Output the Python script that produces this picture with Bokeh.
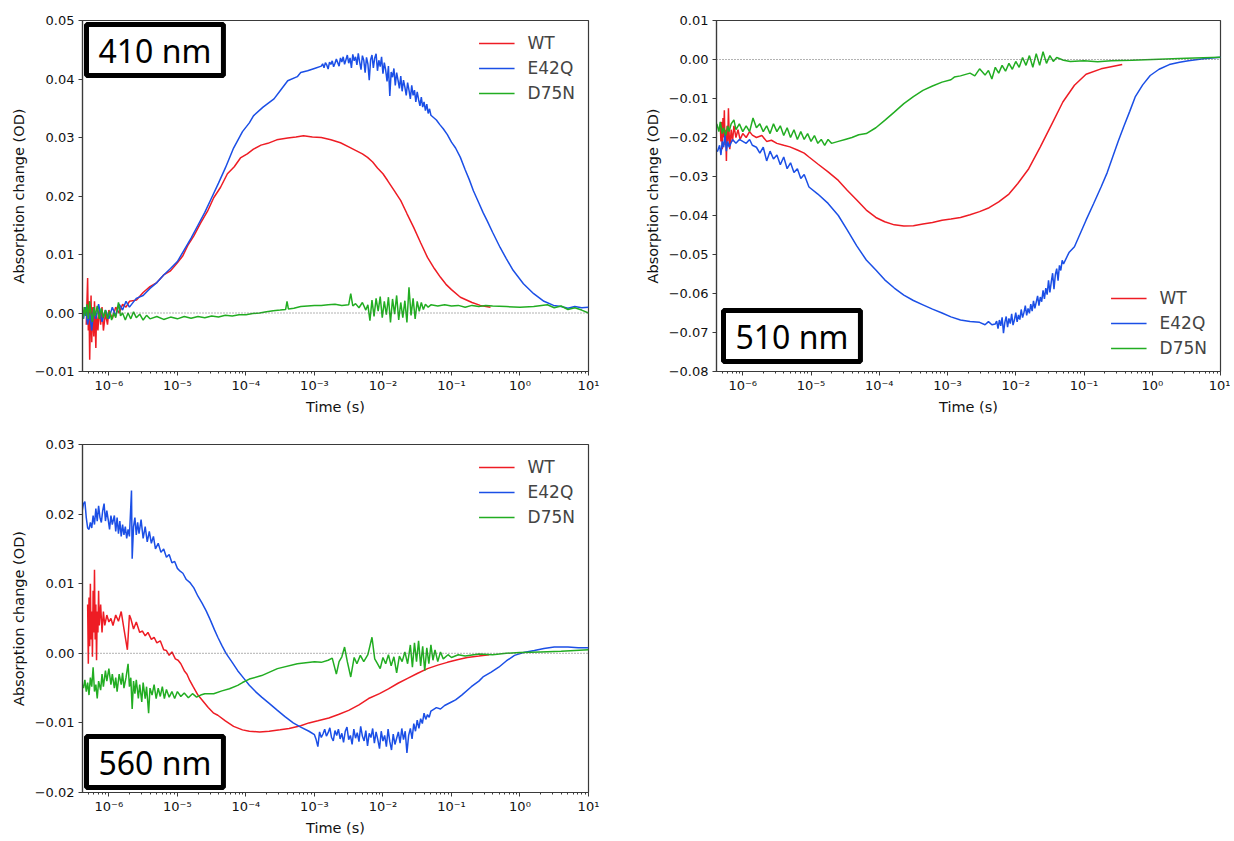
import numpy as np
from bokeh.plotting import figure
from bokeh.layouts import column, row
from bokeh.models import (Span, Label, FixedTicker, CustomJSTickFormatter, Range1d)
from bokeh.embed import file_html
from bokeh.resources import INLINE

# ---------------- DATA (log10 of time in s, absorption change in OD) ----------------
# 410 nm
wt410_lt = [-6.33, -6.31, -6.30, -6.29, -6.28, -6.27, -6.26, -6.25, -6.24, -6.22, -6.21, -6.19, -6.18,
            -6.16, -6.14, -6.12, -6.10, -6.08, -6.05, -6.02, -6.0, -5.95, -5.9, -5.85, -5.8, -5.75,
            -5.7, -5.6, -5.5, -5.4, -5.3, -5.2, -5.1, -5.0, -4.92, -4.85, -4.76, -4.66, -4.56, -4.47,
            -4.37, -4.27, -4.17, -4.08, -3.98, -3.89, -3.78, -3.68, -3.55, -3.39, -3.27, -3.16, -3.03,
            -2.9, -2.76, -2.62, -2.5, -2.4, -2.3, -2.225, -2.15, -2.08, -2.0, -1.93, -1.84, -1.74, -1.65,
            -1.55, -1.45, -1.35, -1.25, -1.16, -1.08, -1.0, -0.87, -0.7, -0.58, -0.43]
wt410_v = [-0.002, 0.006, -0.003, 0.002, -0.008, -0.001, 0.003, -0.005, 0.001, -0.004, 0.002, -0.006, 0.0,
           -0.003, 0.001, -0.002, 0.001, -0.003, 0.0, -0.002, 0.0005, -0.001, 0.001, 0.0, 0.0015, 0.001,
           0.002, 0.0022, 0.0035, 0.0045, 0.0052, 0.0065, 0.0072, 0.0086, 0.0098, 0.0115, 0.0132, 0.0154,
           0.0174, 0.0197, 0.0215, 0.0238, 0.0250, 0.0265, 0.0272, 0.0280, 0.0287, 0.0290, 0.0296, 0.0299,
           0.0301, 0.0303, 0.0301, 0.0300, 0.0296, 0.0291, 0.0284, 0.0278, 0.0272, 0.0266, 0.0258, 0.0248,
           0.0238, 0.0226, 0.0210, 0.0192, 0.0170, 0.0146, 0.0120, 0.0095, 0.0076, 0.0061, 0.0049, 0.0040,
           0.0027, 0.0018, 0.0013, 0.0010]

# E42Q at 410 nm as (log10 t, OD) pairs
e42q410 = [
    (-6.37, -0.001), (-6.34, 0.001), (-6.31, -0.002), (-6.28, 0.0), (-6.25, -0.003), (-6.22, 0.001),
    (-6.19, -0.001), (-6.15, 0.0015), (-6.1, -0.0015), (-6.05, 0.0005), (-6.0, -0.001), (-5.95, 0.001),
    (-5.9, -0.0005), (-5.85, 0.0015), (-5.8, 0.0005), (-5.75, 0.002), (-5.7, 0.001), (-5.6, 0.0025),
    (-5.5, 0.003), (-5.4, 0.0042), (-5.3, 0.0052), (-5.2, 0.0065), (-5.1, 0.0076), (-5.0, 0.0088),
    (-4.9, 0.0108), (-4.8, 0.0128), (-4.7, 0.015), (-4.6, 0.0172), (-4.5, 0.0197), (-4.4, 0.0222),
    (-4.3, 0.0248), (-4.18, 0.0282), (-4.05, 0.031), (-3.95, 0.0325), (-3.89, 0.0337), (-3.75, 0.0352),
    (-3.59, 0.0366), (-3.5, 0.038), (-3.39, 0.0397), (-3.25, 0.0404), (-3.2, 0.0411), (-3.1, 0.0414),
    (-3.0, 0.0418),
    (-2.90, 0.0422), (-2.88, 0.0426), (-2.86, 0.0419), (-2.84, 0.0428), (-2.82, 0.0424), (-2.80, 0.0417),
    (-2.78, 0.0429), (-2.76, 0.0425), (-2.74, 0.0431), (-2.72, 0.0421), (-2.70, 0.0427), (-2.68, 0.0434),
    (-2.66, 0.0428), (-2.64, 0.0422), (-2.62, 0.0436), (-2.60, 0.0429), (-2.58, 0.0438), (-2.56, 0.0425),
    (-2.54, 0.0433), (-2.52, 0.0441), (-2.50, 0.0427), (-2.48, 0.0436), (-2.46, 0.0419), (-2.44, 0.0442),
    (-2.42, 0.0431), (-2.40, 0.0438), (-2.38, 0.0424), (-2.36, 0.0444), (-2.34, 0.0429), (-2.32, 0.0416),
    (-2.30, 0.0440), (-2.28, 0.0432), (-2.26, 0.0411), (-2.24, 0.0437), (-2.22, 0.0426), (-2.20, 0.0398),
    (-2.18, 0.0433), (-2.16, 0.0441), (-2.14, 0.0419), (-2.12, 0.0436), (-2.10, 0.0443), (-2.08, 0.0414),
    (-2.06, 0.0432), (-2.04, 0.0421), (-2.02, 0.0438), (-2.00, 0.0409), (-1.98, 0.0428), (-1.96, 0.0415),
    (-1.94, 0.0396), (-1.92, 0.0422), (-1.90, 0.0371), (-1.88, 0.0412), (-1.86, 0.0403), (-1.84, 0.0418),
    (-1.82, 0.0389), (-1.80, 0.0411), (-1.78, 0.0398), (-1.76, 0.0384), (-1.74, 0.0405), (-1.72, 0.0379),
    (-1.70, 0.0398), (-1.68, 0.0386), (-1.66, 0.0372), (-1.64, 0.0394), (-1.62, 0.0381), (-1.60, 0.0366),
    (-1.58, 0.0389), (-1.56, 0.0372), (-1.54, 0.0381), (-1.52, 0.0361), (-1.50, 0.0378), (-1.48, 0.0365),
    (-1.46, 0.0354), (-1.44, 0.0369), (-1.42, 0.0352), (-1.40, 0.0361), (-1.38, 0.0346), (-1.36, 0.0357),
    (-1.34, 0.0341), (-1.32, 0.0349), (-1.30, 0.0338),
    (-1.22, 0.033), (-1.17, 0.0322), (-1.12, 0.0315), (-1.06, 0.0305), (-1.0, 0.0292), (-0.94, 0.0282),
    (-0.87, 0.0266), (-0.8, 0.0245), (-0.74, 0.0228), (-0.68, 0.0209), (-0.6, 0.0188), (-0.54, 0.0172),
    (-0.48, 0.0158), (-0.4, 0.0138), (-0.29, 0.0112), (-0.2, 0.0093), (-0.1, 0.0073), (0.05, 0.005),
    (0.2, 0.0033), (0.35, 0.002), (0.49, 0.0013), (0.6, 0.0011), (0.7, 0.0008), (0.8, 0.0011),
    (0.9, 0.0009), (1.0, 0.001)]

d75n410_lt = [-6.38, -6.36, -6.34, -6.32, -6.3, -6.28, -6.26, -6.24, -6.22, -6.2, -6.17, -6.14, -6.11,
              -6.08, -6.05, -6.02, -5.99, -5.96, -5.93, -5.9, -5.86, -5.83, -5.8, -5.76, -5.72, -5.68,
              -5.64, -5.6, -5.55, -5.5, -5.45, -5.4, -5.3, -5.2, -5.1, -5.0, -4.9, -4.8, -4.7, -4.6, -4.5,
              -4.4, -4.3, -4.2, -4.1, -4.0, -3.9, -3.8, -3.7, -3.6, -3.5, -3.42, -3.4, -3.38, -3.3, -3.2,
              -3.1, -3.0, -2.9, -2.8, -2.7, -2.6, -2.5, -2.47, -2.44, -2.4, -2.35, -2.3, -2.25, -2.22,
              -2.19, -2.16, -2.13, -2.1, -2.07, -2.04, -2.01, -1.98, -1.95, -1.92, -1.89, -1.86, -1.83,
              -1.8, -1.77, -1.74, -1.71, -1.68, -1.65, -1.62, -1.59, -1.56, -1.53, -1.5, -1.47, -1.44,
              -1.41, -1.38, -1.34, -1.3, -1.2, -1.1, -1.0, -0.9, -0.8, -0.7, -0.6, -0.5, -0.4, -0.2, 0.0,
              0.2, 0.4, 0.5, 0.6, 0.7, 0.8, 0.9, 1.0]
d75n410_v = [-0.001, 0.001, -0.0005, 0.0015, -0.001, 0.002, 0.0, -0.0015, 0.001, -0.0005, 0.0012, -0.001,
             0.0008, -0.0008, 0.0005, -0.001, 0.0003, -0.0012, 0.0, -0.0008, 0.0018, -0.0005, 0.0, -0.0012,
             0.0, -0.001, 0.0002, -0.0008, -0.0002, -0.0012, -0.0004, -0.001, -0.0006, -0.0011, -0.0007,
             -0.001, -0.0006, -0.0009, -0.0006, -0.0008, -0.0005, -0.0007, -0.0004, -0.0005, -0.0003,
             -0.0003, -0.0001, 0.0, 0.0002, 0.0004, 0.0005, 0.0006, 0.002, 0.0007, 0.0008, 0.0011, 0.0012,
             0.0013, 0.0013, 0.0014, 0.0015, 0.0013, 0.0014, 0.0033, 0.0012, 0.0016, 0.0009, 0.0018,
             0.0005, 0.0014, -0.0013, 0.0022, -0.0006, 0.0025, 0.0003, 0.0028, -0.0008, 0.002, -0.0003,
             0.0027, -0.0016, 0.0024, -0.0002, 0.003, -0.0012, 0.0018, -0.0008, 0.0021, -0.0016, 0.0044,
             -0.0004, 0.0025, -0.001, 0.002, 0.0003, 0.0018, 0.0006, 0.0015, 0.001, 0.0014, 0.0012,
             0.0014, 0.0012, 0.0013, 0.001, 0.0013, 0.0011, 0.0013, 0.0012, 0.0011, 0.001, 0.0011, 0.0014,
             0.0009, 0.0012, 0.0006, 0.0009, 0.0005, 0.0]

# 510 nm
wt510_lt = [-6.33, -6.32, -6.31, -6.30, -6.29, -6.28, -6.27, -6.26, -6.25, -6.24, -6.23, -6.22, -6.21,
            -6.20, -6.19, -6.17, -6.15, -6.13, -6.1, -6.07, -6.04, -6.0, -5.95, -5.9, -5.86, -5.8, -5.72,
            -5.65, -5.58, -5.5, -5.4, -5.31, -5.2, -5.1, -5.03, -4.9, -4.75, -4.6, -4.47, -4.33, -4.19,
            -4.05, -3.92, -3.78, -3.64, -3.5, -3.36, -3.22, -3.08, -2.95, -2.81, -2.67, -2.53, -2.39,
            -2.25, -2.1, -1.97, -1.81, -1.64, -1.47, -1.31, -1.14, -0.97, -0.75, -0.44]
wt510_v = [-0.017, -0.021, -0.016, -0.023, -0.015, -0.020, -0.013, -0.022, -0.018, -0.026, -0.017, -0.021,
           -0.0125, -0.019, -0.023, -0.018, -0.021, -0.017, -0.020, -0.018, -0.0205, -0.019, -0.020,
           -0.0185, -0.0194, -0.020, -0.0195, -0.021, -0.0207, -0.0215, -0.022, -0.0224, -0.0232, -0.024,
           -0.025, -0.0268, -0.0288, -0.031, -0.0335, -0.036, -0.0386, -0.0405, -0.0416, -0.0424, -0.0427,
           -0.0426, -0.0422, -0.0418, -0.0412, -0.0409, -0.0405, -0.0398, -0.039, -0.038, -0.0365,
           -0.0345, -0.0318, -0.028, -0.0224, -0.0165, -0.0109, -0.0066, -0.0038, -0.0024, -0.0013]

e42q510 = [
    (-6.4, -0.0237), (-6.37, -0.0235), (-6.34, -0.022), (-6.32, -0.0245), (-6.3, -0.021), (-6.28, -0.0225),
    (-6.26, -0.019), (-6.24, -0.0235), (-6.22, -0.021), (-6.2, -0.0225), (-6.15, -0.0205), (-6.1, -0.0215),
    (-6.05, -0.0205), (-6.0, -0.021), (-5.95, -0.0215), (-5.9, -0.0205), (-5.86, -0.022), (-5.8, -0.0225),
    (-5.75, -0.024), (-5.7, -0.0225), (-5.65, -0.026), (-5.6, -0.0235), (-5.55, -0.0255), (-5.5, -0.0245),
    (-5.45, -0.027), (-5.4, -0.025), (-5.35, -0.028), (-5.3, -0.0265), (-5.25, -0.029), (-5.2, -0.028),
    (-5.15, -0.0305), (-5.1, -0.0295), (-5.03, -0.0327), (-4.9, -0.0345), (-4.75, -0.0369), (-4.6, -0.040),
    (-4.47, -0.0437), (-4.33, -0.0478), (-4.19, -0.0514), (-4.05, -0.054), (-3.92, -0.0565),
    (-3.78, -0.0586), (-3.64, -0.0604), (-3.5, -0.0618), (-3.36, -0.0629), (-3.22, -0.064),
    (-3.08, -0.065), (-2.95, -0.066), (-2.81, -0.0668), (-2.67, -0.0672), (-2.53, -0.0674),
    (-2.45, -0.068), (-2.4, -0.0672), (-2.35, -0.068),
    (-2.30, -0.0678), (-2.28, -0.0671), (-2.26, -0.0690), (-2.24, -0.0668), (-2.22, -0.0683),
    (-2.20, -0.0661), (-2.18, -0.0702), (-2.16, -0.0674), (-2.14, -0.0659), (-2.12, -0.0686),
    (-2.10, -0.0664), (-2.08, -0.0677), (-2.06, -0.0652), (-2.04, -0.0681), (-2.02, -0.0668),
    (-2.00, -0.0649), (-1.98, -0.0673), (-1.96, -0.0655), (-1.94, -0.0667), (-1.92, -0.0641),
    (-1.90, -0.0662), (-1.88, -0.0649), (-1.86, -0.0631), (-1.84, -0.0656), (-1.82, -0.0638),
    (-1.80, -0.0651), (-1.78, -0.0627), (-1.76, -0.0645), (-1.74, -0.0619), (-1.72, -0.0638),
    (-1.70, -0.0622), (-1.68, -0.0606), (-1.66, -0.0631), (-1.64, -0.0609), (-1.62, -0.0621),
    (-1.60, -0.0592), (-1.58, -0.0614), (-1.56, -0.0586), (-1.54, -0.0603), (-1.52, -0.0566),
    (-1.50, -0.0597), (-1.48, -0.0571), (-1.46, -0.0548), (-1.44, -0.0589), (-1.42, -0.0552),
    (-1.40, -0.0536), (-1.38, -0.0567), (-1.36, -0.0528), (-1.34, -0.0541), (-1.32, -0.0515),
    (-1.30, -0.0524),
    (-1.22, -0.0495), (-1.14, -0.048), (-0.97, -0.0412), (-0.86, -0.037), (-0.75, -0.0327),
    (-0.66, -0.029), (-0.58, -0.025), (-0.5, -0.021), (-0.42, -0.0173), (-0.33, -0.0133),
    (-0.25, -0.0096), (-0.14, -0.0065), (-0.03, -0.0041), (0.1, -0.0025), (0.25, -0.0013),
    (0.4, -0.0007), (0.53, -0.0003), (0.75, 0.0002), (1.0, 0.0006)]

d75n510_lt = [-6.4, -6.38, -6.35, -6.33, -6.3, -6.28, -6.25, -6.22, -6.2, -6.17, -6.13, -6.1, -6.05, -6.0,
              -5.95, -5.9, -5.85, -5.8, -5.75, -5.7, -5.65, -5.6, -5.55, -5.5, -5.45, -5.4, -5.35, -5.3,
              -5.25, -5.2, -5.15, -5.1, -5.05, -5.0, -4.95, -4.9, -4.85, -4.8, -4.75, -4.7, -4.6, -4.5,
              -4.4, -4.3, -4.19, -4.05, -3.92, -3.78, -3.64, -3.5, -3.36, -3.22, -3.08, -2.95, -2.9,
              -2.81, -2.67, -2.6, -2.53, -2.45, -2.4, -2.35, -2.3, -2.25, -2.2, -2.15, -2.1, -2.05, -2.0,
              -1.95, -1.9, -1.85, -1.8, -1.75, -1.7, -1.65, -1.6, -1.55, -1.5, -1.45, -1.4, -1.3, -1.2,
              -1.0, -0.8, -0.6, -0.3, 0.0, 0.5, 1.0]
d75n510_v = [-0.0175, -0.0165, -0.0185, -0.016, -0.019, -0.0175, -0.0195, -0.017, -0.0185, -0.0165,
             -0.0155, -0.018, -0.0165, -0.0185, -0.017, -0.0185, -0.015, -0.0175, -0.0165, -0.0185, -0.017,
             -0.019, -0.0165, -0.0185, -0.017, -0.0195, -0.0175, -0.02, -0.018, -0.0205, -0.0185, -0.0205,
             -0.019, -0.021, -0.0195, -0.0215, -0.0205, -0.022, -0.0205, -0.0215, -0.021, -0.0205, -0.020,
             -0.0193, -0.019, -0.0175, -0.0156, -0.0135, -0.0113, -0.0095, -0.0079, -0.0068, -0.0058,
             -0.0052, -0.0045, -0.0042, -0.0035, -0.0042, -0.0024, -0.004, -0.0028, -0.005, -0.002,
             -0.0035, -0.0015, -0.003, -0.001, -0.0025, -0.0005, -0.002, 0.0005, -0.0015, 0.001, -0.002,
             0.0015, -0.0015, 0.002, -0.001, 0.001, -0.0005, 0.0005, -0.0002, -0.0005, -0.0003, -0.0006,
             -0.0003, -0.0002, 0.0, 0.0003, 0.0006]

# 560 nm
wt560_lt = [-6.31, -6.30, -6.29, -6.28, -6.27, -6.26, -6.25, -6.24, -6.23, -6.22, -6.21, -6.20, -6.19,
            -6.18, -6.17, -6.16, -6.15, -6.14, -6.12, -6.1, -6.08, -6.06, -6.03, -6.0, -5.97, -5.94, -5.9,
            -5.86, -5.82, -5.78, -5.73, -5.7, -5.68, -5.64, -5.6, -5.55, -5.51, -5.47, -5.43, -5.38,
            -5.34, -5.3, -5.25, -5.2, -5.16, -5.12, -5.08, -5.03, -4.99, -4.95, -4.9, -4.86, -4.82, -4.77,
            -4.7, -4.64, -4.55, -4.47, -4.41, -4.3, -4.18, -4.05, -3.95, -3.8, -3.66, -3.5, -3.37, -3.2,
            -3.08, -2.95, -2.79, -2.65, -2.5, -2.35, -2.21, -2.05, -1.92, -1.78, -1.64, -1.5, -1.35, -1.2,
            -1.06, -0.9, -0.77, -0.6, -0.45]
wt560_v = [0.007, -0.0015, 0.008, 0.001, 0.010, 0.002, 0.006, -0.0005, 0.009, 0.003, 0.012, 0.002, 0.007,
           -0.001, 0.006, 0.003, 0.009, 0.004, 0.007, 0.003, 0.006, 0.004, 0.0055, 0.0045, 0.005, 0.004,
           0.0055, 0.0046, 0.006, 0.0035, 0.0005, 0.0055, 0.005, 0.0035, 0.0045, 0.003, 0.0032, 0.0025,
           0.003, 0.002, 0.0023, 0.0015, 0.0018, 0.0005, 0.0004, -0.0003, 0.0002, -0.0008, -0.001,
           -0.0015, -0.0025, -0.003, -0.0039, -0.0048, -0.006, -0.0067, -0.0078, -0.0086, -0.0089,
           -0.0097, -0.0105, -0.011, -0.0112, -0.0113, -0.0112, -0.011, -0.0108, -0.0104, -0.01, -0.0097,
           -0.0093, -0.0088, -0.0082, -0.0074, -0.0065, -0.0058, -0.0051, -0.0043, -0.0036, -0.0029,
           -0.0022, -0.0017, -0.0013, -0.0009, -0.0006, -0.0004, -0.0002]

e42q560 = [
    (-6.39, 0.0205), (-6.37, 0.0215), (-6.35, 0.0218), (-6.33, 0.0195), (-6.31, 0.018), (-6.29, 0.0178),
    (-6.27, 0.0188), (-6.25, 0.018), (-6.23, 0.0198), (-6.21, 0.0185), (-6.19, 0.0208), (-6.17, 0.019),
    (-6.15, 0.0212), (-6.13, 0.0195), (-6.11, 0.0188), (-6.09, 0.0205), (-6.07, 0.0215), (-6.05, 0.019),
    (-6.03, 0.0205), (-6.01, 0.0192), (-5.99, 0.0178), (-5.97, 0.0198), (-5.95, 0.0185), (-5.92, 0.0198),
    (-5.9, 0.0175), (-5.88, 0.0195), (-5.86, 0.0172), (-5.84, 0.019), (-5.82, 0.0168), (-5.8, 0.0185),
    (-5.78, 0.017), (-5.76, 0.0182), (-5.74, 0.0165), (-5.72, 0.0178), (-5.7, 0.0168), (-5.67, 0.0234),
    (-5.66, 0.0136), (-5.64, 0.0182), (-5.62, 0.0195), (-5.6, 0.017), (-5.58, 0.0188), (-5.56, 0.0172),
    (-5.53, 0.0192), (-5.5, 0.0165), (-5.47, 0.0182), (-5.44, 0.016), (-5.41, 0.0175), (-5.38, 0.0158),
    (-5.35, 0.0168), (-5.32, 0.015), (-5.28, 0.0158), (-5.24, 0.0145), (-5.2, 0.015), (-5.16, 0.0138),
    (-5.12, 0.0142), (-5.08, 0.013), (-5.04, 0.0132), (-5.0, 0.0122), (-4.96, 0.0118), (-4.92, 0.0115),
    (-4.87, 0.0106), (-4.82, 0.0102), (-4.76, 0.0094), (-4.7, 0.0082), (-4.64, 0.0072), (-4.58, 0.0061),
    (-4.52, 0.0048), (-4.46, 0.0034), (-4.41, 0.0023), (-4.35, 0.0011), (-4.29, 0.0), (-4.2, -0.0013),
    (-4.12, -0.0025), (-4.03, -0.0036), (-3.95, -0.0046), (-3.86, -0.0055), (-3.77, -0.0063),
    (-3.66, -0.0072), (-3.54, -0.0082), (-3.43, -0.0091), (-3.31, -0.01), (-3.2, -0.0106),
    (-3.08, -0.0112),
    (-3.000, -0.0117), (-2.975, -0.0124), (-2.950, -0.0134), (-2.925, -0.0113), (-2.900, -0.0121),
    (-2.875, -0.0116), (-2.850, -0.0109), (-2.825, -0.0119), (-2.800, -0.0114), (-2.775, -0.0107),
    (-2.750, -0.0121), (-2.725, -0.0126), (-2.700, -0.0111), (-2.675, -0.0118), (-2.650, -0.0109),
    (-2.625, -0.0123), (-2.600, -0.0115), (-2.575, -0.0128), (-2.550, -0.0112), (-2.525, -0.0106),
    (-2.500, -0.0124), (-2.475, -0.0118), (-2.450, -0.0131), (-2.425, -0.0109), (-2.400, -0.0122),
    (-2.375, -0.0114), (-2.350, -0.0127), (-2.325, -0.0105), (-2.300, -0.0119), (-2.275, -0.0126),
    (-2.250, -0.0111), (-2.225, -0.0133), (-2.200, -0.0115), (-2.175, -0.0121), (-2.150, -0.0108),
    (-2.125, -0.0129), (-2.100, -0.0113), (-2.075, -0.0124), (-2.050, -0.0137), (-2.025, -0.0112),
    (-2.000, -0.0126), (-1.975, -0.0118), (-1.950, -0.0134), (-1.925, -0.0109), (-1.900, -0.0127),
    (-1.875, -0.0139), (-1.850, -0.0116), (-1.825, -0.0131), (-1.800, -0.0122), (-1.775, -0.0113),
    (-1.750, -0.0129), (-1.725, -0.0108), (-1.700, -0.0124), (-1.675, -0.0112), (-1.650, -0.0143),
    (-1.625, -0.0118), (-1.600, -0.0108), (-1.575, -0.0123), (-1.550, -0.0101), (-1.525, -0.0112),
    (-1.500, -0.0096), (-1.475, -0.0108), (-1.450, -0.0094), (-1.425, -0.0101), (-1.400, -0.0086),
    (-1.375, -0.0095), (-1.350, -0.0088), (-1.325, -0.0092), (-1.300, -0.0083),
    (-1.22, -0.0078), (-1.16, -0.008), (-1.1, -0.0075), (-1.0, -0.007), (-0.94, -0.0067),
    (-0.85, -0.006), (-0.71, -0.0048), (-0.6, -0.004), (-0.54, -0.0034), (-0.42, -0.0027),
    (-0.31, -0.002), (-0.2, -0.0011), (-0.08, -0.0003), (0.05, 0.0001), (0.21, 0.0004), (0.35, 0.0007),
    (0.5, 0.0009), (0.7, 0.0009), (0.85, 0.0008), (1.0, 0.0008)]

d75n560_lt = [-6.39, -6.37, -6.35, -6.33, -6.31, -6.29, -6.27, -6.25, -6.23, -6.21, -6.19, -6.17, -6.15,
              -6.12, -6.1, -6.08, -6.05, -6.03, -6.0, -5.97, -5.95, -5.92, -5.9, -5.88, -5.85, -5.82, -5.8,
              -5.78, -5.75, -5.72, -5.7, -5.68, -5.66, -5.64, -5.62, -5.6, -5.57, -5.55, -5.52, -5.5,
              -5.47, -5.45, -5.42, -5.4, -5.37, -5.34, -5.31, -5.28, -5.25, -5.22, -5.19, -5.16, -5.12,
              -5.08, -5.04, -5.0, -4.95, -4.9, -4.84, -4.78, -4.72, -4.66, -4.6, -4.47, -4.35, -4.24,
              -4.12, -4.05, -3.95, -3.77, -3.54, -3.25, -3.0, -2.9, -2.8, -2.74, -2.68, -2.64, -2.6, -2.56,
              -2.52, -2.47, -2.42, -2.38, -2.33, -2.28, -2.22, -2.16, -2.12, -2.08, -2.04, -2.0, -1.96,
              -1.92, -1.88, -1.84, -1.8, -1.76, -1.72, -1.68, -1.64, -1.6, -1.57, -1.54, -1.51, -1.48,
              -1.45, -1.42, -1.39, -1.36, -1.33, -1.3, -1.27, -1.24, -1.2, -1.16, -1.12, -1.05, -1.0,
              -0.9, -0.8, -0.6, -0.4, -0.2, 0.0, 0.3, 0.6, 1.0]
d75n560_v = [-0.0044, -0.005, -0.0038, -0.0055, -0.0042, -0.006, -0.0035, -0.0048, -0.002, -0.0055,
             -0.0045, -0.0065, -0.004, -0.0053, -0.003, -0.0048, -0.0025, -0.004, -0.0022, -0.0045, -0.003,
             -0.005, -0.0035, -0.0055, -0.003, -0.0045, -0.0028, -0.005, -0.0035, -0.0015, -0.0048,
             -0.0035, -0.008, -0.004, -0.0058, -0.0038, -0.0065, -0.0045, -0.007, -0.0042, -0.0065,
             -0.0048, -0.0086, -0.005, -0.006, -0.0045, -0.0065, -0.005, -0.0062, -0.0048, -0.0065,
             -0.0052, -0.0063, -0.0055, -0.0065, -0.0055, -0.0062, -0.0057, -0.0064, -0.0058, -0.0063,
             -0.006, -0.0058, -0.0058, -0.0054, -0.0051, -0.0046, -0.0042, -0.0037, -0.0032, -0.0022,
             -0.0015, -0.0012, -0.0013, -0.001, -0.0007, -0.003, -0.0012, -0.0005, 0.0009, -0.0012,
             -0.0034, -0.0006, -0.0015, -0.0003, -0.0012, -0.0002, 0.0023, -0.0008, -0.0015, -0.0022,
             -0.0006, -0.0015, -0.0002, -0.0018, -0.0005, -0.0028, -0.0004, -0.0012, 0.0002, -0.0015,
             0.0012, -0.002, 0.0015, -0.0012, 0.0018, -0.0018, 0.001, -0.0025, 0.0008, -0.0015, 0.0012,
             -0.001, 0.0005, -0.0012, 0.0002, -0.0008, -0.0002, -0.0006, -0.0002, -0.0004, -0.0001,
             -0.0002, 0.0, 0.0001, 0.0002, 0.0003, 0.0005]

series_names = ["WT", "E42Q", "D75N"]
series_colors = ["#ee1c24", "#1b4fe6", "#22ad22"]

x_major = [1e-6, 1e-5, 1e-4, 1e-3, 1e-2, 1e-1, 1e0, 1e1]
y_ticks_410 = [-0.01, 0.0, 0.01, 0.02, 0.03, 0.04, 0.05]
y_ticks_510 = [-0.08, -0.07, -0.06, -0.05, -0.04, -0.03, -0.02, -0.01, 0.0, 0.01]
y_ticks_560 = [-0.02, -0.01, 0.0, 0.01, 0.02, 0.03]

X_START = 10 ** -6.385
X_END = 10.0

minor = []
for e in range(-7, 1):
    for k in range(2, 10):
        t = k * 10.0 ** e
        if X_START <= t <= X_END:
            minor.append(t)

X_FMT = CustomJSTickFormatter(code="""
const sup = {'-':'\u207b','0':'\u2070','1':'\u00b9','2':'\u00b2','3':'\u00b3','4':'\u2074',
             '5':'\u2075','6':'\u2076','7':'\u2077','8':'\u2078','9':'\u2079'};
const e = Math.round(Math.log10(tick));
return '10' + String(e).split('').map(c => sup[c]).join('');
""")
Y_FMT = CustomJSTickFormatter(code="""
if (Math.abs(tick) < 1e-9) { return '0.00'; }
const s = tick.toFixed(2);
return s.replace('-', '\u2212');
""")

AX_COLOR = "#3a3a3a"
FONT = "DejaVu Sans"


def pairs(seq):
    return [a for a, _ in seq], [b for _, b in seq]


def make_panel(series, yr, yticks, w, h, bl, br, bt, bb, tag, tag_pos, legend_loc):
    p = figure(width=w, height=h, x_axis_type="log", output_backend="svg", toolbar_location=None,
               x_range=Range1d(X_START, X_END), y_range=Range1d(*yr),
               min_border_left=bl, min_border_right=br, min_border_top=bt, min_border_bottom=bb)
    p.xgrid.visible = False
    p.ygrid.visible = False
    p.outline_line_color = AX_COLOR
    p.outline_line_width = 1.2
    p.background_fill_color = "white"
    p.border_fill_color = "white"

    p.add_layout(Span(location=0, dimension="width", line_color="#555555", line_width=0.9,
                      line_dash="1 2"))

    for (lt, v), name, col in zip(series, series_names, series_colors):
        t = 10.0 ** np.array(lt)
        p.line(t, v, line_color=col, line_width=1.5, legend_label=name)

    xa = p.xaxis[0]
    xa.ticker = FixedTicker(ticks=x_major, minor_ticks=minor)
    xa.formatter = X_FMT
    ya = p.yaxis[0]
    ya.ticker = FixedTicker(ticks=yticks)
    ya.formatter = Y_FMT
    for ax in (xa, ya):
        ax.axis_line_color = AX_COLOR
        ax.axis_line_width = 1.2
        ax.major_tick_line_color = AX_COLOR
        ax.minor_tick_line_color = AX_COLOR
        ax.major_tick_in = 0
        ax.major_tick_out = 4
        ax.minor_tick_in = 0
        ax.minor_tick_out = 2
        ax.major_label_text_font = FONT
        ax.major_label_text_font_size = "13px"
        ax.major_label_text_color = "#111111"
        ax.axis_label_text_font = FONT
        ax.axis_label_text_font_size = "14.5px"
        ax.axis_label_text_font_style = "normal"
        ax.axis_label_text_color = "#111111"
    ya.minor_tick_line_color = None
    xa.axis_label = "Time (s)"
    ya.axis_label = "Absorption change (OD)"
    xa.major_label_standoff = 2
    xa.axis_label_standoff = 3
    ya.major_label_standoff = 4
    ya.axis_label_standoff = 5

    lg = p.legend[0]
    lg.location = legend_loc
    lg.border_line_color = None
    lg.background_fill_alpha = 0
    lg.label_text_font = FONT
    lg.label_text_font_size = "17px"
    lg.glyph_width = 36
    lg.glyph_height = 20
    lg.label_height = 20
    lg.spacing = 5
    lg.label_standoff = 13
    lg.padding = 8
    lg.margin = 13

    ax_, ay_, anchor = tag_pos
    p.add_layout(Label(x=ax_, y=ay_, x_units="screen", y_units="screen", anchor=anchor, text=tag,
                       text_font="Noto Sans", text_font_size="32px", text_color="black",
                       border_line_color="black", border_line_width=5, background_fill_color="white",
                       padding=dict(x=12, y=4)))
    return p


p1 = make_panel([(wt410_lt, wt410_v), pairs(e42q410), (d75n410_lt, d75n410_v)],
                (-0.01, 0.05), y_ticks_410, 625, 425, 82, 37, 20, 54,
                "410 nm", (4, 347, "top_left"), "top_right")
p2 = make_panel([(wt510_lt, wt510_v), pairs(e42q510), (d75n510_lt, d75n510_v)],
                (-0.08, 0.01), y_ticks_510, 605, 425, 91, 10, 20, 53,
                "510 nm", (7, 10, "bottom_left"), "bottom_right")
p3 = make_panel([(wt560_lt, wt560_v), pairs(e42q560), (d75n560_lt, d75n560_v)],
                (-0.02, 0.03), y_ticks_560, 625, 413, 82, 37, 19, 41,
                "560 nm", (4, 5, "bottom_left"), "top_right")

layout = column(row(p1, p2), row(p3))
open("out.html", "w").write(file_html(layout, INLINE))
